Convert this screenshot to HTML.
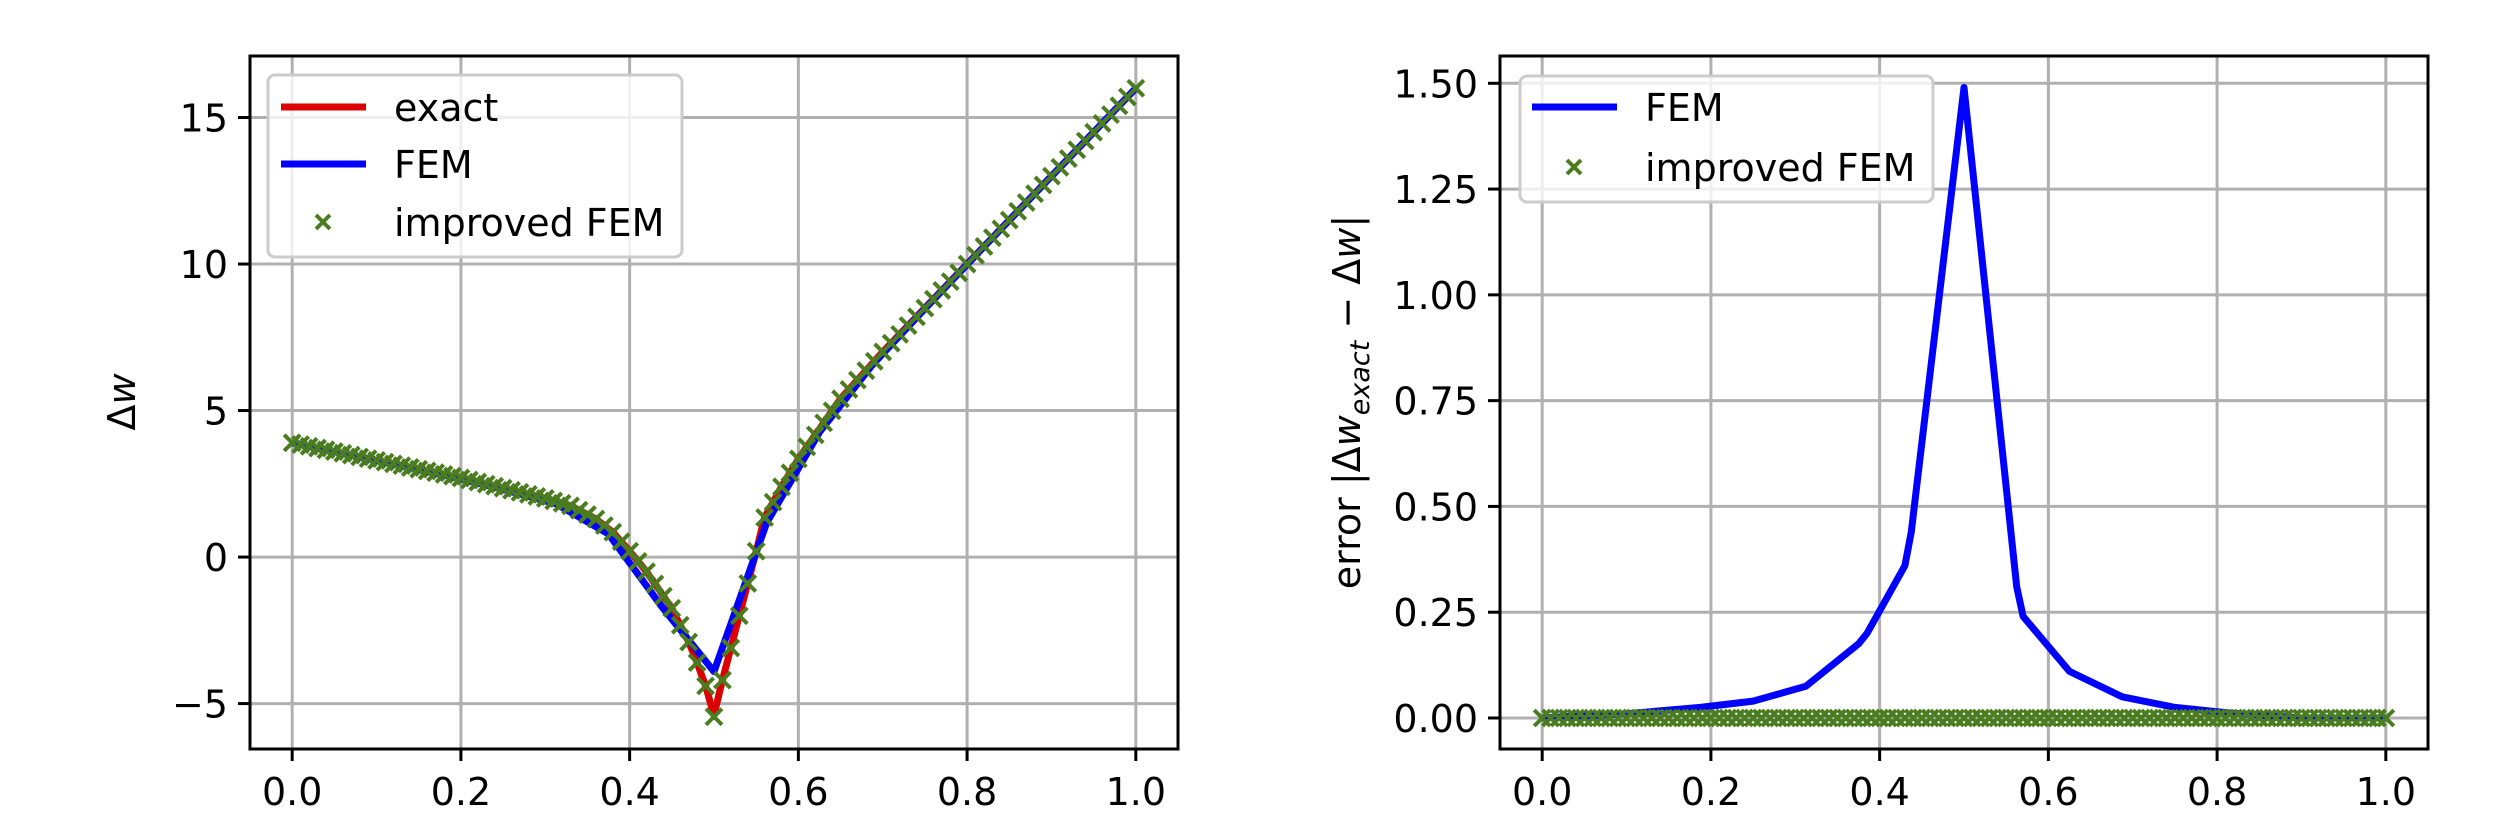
<!DOCTYPE html>
<html><head><meta charset="utf-8"><style>
html,body{margin:0;padding:0;background:#fff;}
svg{display:block;font-family:"DejaVu Sans","Liberation Sans",sans-serif;}
</style></head><body>
<svg id="s" width="2500" height="833" xmlns="http://www.w3.org/2000/svg"></svg>
<script>
const S=document.getElementById('s');
let h='';
function interp(P,x){for(let i=0;i<P.length-1;i++){if(x<=P[i+1][0]){const t=(x-P[i][0])/(P[i+1][0]-P[i][0]);return P[i][1]+t*(P[i+1][1]-P[i][1]);}}return P[P.length-1][1];}
const EX=[[0,3.9],[0.1,3.3],[0.2,2.7],[0.3,2.0],[0.33,1.75],[0.36,1.3],[0.38,0.85],[0.4,0.2],[0.42,-0.5],[0.45,-1.75],[0.47,-2.9],[0.48,-3.6],[0.49,-4.4],[0.5,-5.4],[0.51,-4.2],[0.52,-3.1],[0.53,-2.0],[0.54,-0.9],[0.55,0.2],[0.56,1.35],[0.58,2.4],[0.6,3.35],[0.65,5.4],[0.7,7.0],[0.8,10.0],[0.9,13.0],[1.0,16.0]];
const ER=[[0,0],[0.1,0.01],[0.1875,0.025],[0.25,0.04],[0.3125,0.075],[0.375,0.175],[0.385,0.2],[0.43,0.36],[0.4375,0.44],[0.5,1.49],[0.5625,0.31],[0.57,0.24],[0.625,0.11],[0.6875,0.05],[0.75,0.025],[0.8125,0.012],[0.9,0],[1,0]];
function axes(L,R,T,B,x0,x1,y0,y1,yt,fmt){
  const X=v=>L+(v-x0)/(x1-x0)*(R-L), Y=v=>B-(v-y0)/(y1-y0)*(B-T);
  let g='';
  for(let i=0;i<=5;i++){const v=i*0.2,px=X(v);g+=`<line x1="${px}" y1="${T}" x2="${px}" y2="${B}" stroke="#b0b0b0" stroke-width="3"/>`;
    g+=`<line x1="${px}" y1="${B}" x2="${px}" y2="${B+12}" stroke="#000" stroke-width="3"/>`;
    g+=`<text x="${px}" y="${B+56}" font-size="38" text-anchor="middle">${v.toFixed(1)}</text>`;}
  for(const v of yt){const py=Y(v);g+=`<line x1="${L}" y1="${py}" x2="${R}" y2="${py}" stroke="#b0b0b0" stroke-width="3"/>`;
    g+=`<line x1="${L-12}" y1="${py}" x2="${L}" y2="${py}" stroke="#000" stroke-width="3"/>`;
    g+=`<text x="${L-22}" y="${py+14}" font-size="38" text-anchor="end">${fmt(v)}</text>`;}
  return {g,X,Y};
}
function cross(x,y,s){return `M${x-s},${y-s}L${x+s},${y+s}M${x-s},${y+s}L${x+s},${y-s}`;}
const GREEN='#4a7d1f';
// Left
{const L=250,R=1178,T=56,B=749;
 const a=axes(L,R,T,B,-0.05,1.05,-6.55,17.1,[15,10,5,0,-5],v=>v<0?'−'+(-v):''+v);
 h+=a.g;
 h+=`<clipPath id="c1"><rect x="${L}" y="${T}" width="${R-L}" height="${B-T}"/></clipPath><g clip-path="url(#c1)">`;
 let pe='',pf='';
 for(let i=0;i<=400;i++){const x=i/400;const e=interp(EX,x);pe+=(i?'L':'M')+a.X(x).toFixed(1)+','+a.Y(e).toFixed(1);}
 for(let k=0;k<=16;k++){const x=k/16;const e=interp(EX,x);const f=e+(k==8?1:-1)*interp(ER,x);pf+=(k?'L':'M')+a.X(x).toFixed(1)+','+a.Y(f).toFixed(1);}
 h+=`<path d="${pe}" fill="none" stroke="#dd0000" stroke-width="7" stroke-linejoin="round"/>`;
 h+=`<path d="${pf}" fill="none" stroke="#0000ff" stroke-width="7" stroke-linejoin="round"/>`;
 let pc='';for(let i=0;i<=100;i++){const x=i/100;pc+=cross(a.X(x),a.Y(interp(EX,x)-(i==50?0.05:0)),8);}
 h+=`<path d="${pc}" stroke="${GREEN}" stroke-width="4" fill="none"/></g>`;
 h+=`<rect x="${L}" y="${T}" width="${R-L}" height="${B-T}" fill="none" stroke="#000" stroke-width="3"/>`;
 h+=`<rect x="268" y="75" width="414" height="182" rx="7" fill="#fff" fill-opacity="0.8" stroke="#cccccc" stroke-width="3"/>`;
 h+=`<line x1="281" y1="107" x2="366" y2="107" stroke="#dd0000" stroke-width="7"/><text x="394" y="121" font-size="38">exact</text>`;
 h+=`<line x1="281" y1="164" x2="366" y2="164" stroke="#0000ff" stroke-width="7"/><text x="394" y="178" font-size="38">FEM</text>`;
 h+=`<path d="${cross(323,222,7)}" stroke="${GREEN}" stroke-width="4"/><text x="394" y="236" font-size="38">improved FEM</text>`;
 h+=`<text transform="translate(135,402) rotate(-90)" font-size="38" text-anchor="middle">Δ<tspan font-style="italic">w</tspan></text>`;
}
// Right
{const L=1500,R=2428,T=56,B=749;
 const a=axes(L,R,T,B,-0.05,1.05,-0.0733,1.5645,[0,0.25,0.5,0.75,1.0,1.25,1.5],v=>v.toFixed(2));
 h+=a.g;
 h+=`<clipPath id="c2"><rect x="${L}" y="${T}" width="${R-L}" height="${B-T}"/></clipPath><g clip-path="url(#c2)">`;
 let pf='';for(let i=0;i<ER.length;i++){pf+=(i?'L':'M')+a.X(ER[i][0]).toFixed(1)+','+a.Y(ER[i][1]).toFixed(1);}
 h+=`<path d="${pf}" fill="none" stroke="#0000ff" stroke-width="7" stroke-linejoin="round"/>`;
 let pc='';for(let i=0;i<=100;i++){pc+=cross(a.X(i/100),a.Y(0),8);}
 h+=`<path d="${pc}" stroke="${GREEN}" stroke-width="4" fill="none"/></g>`;
 h+=`<rect x="${L}" y="${T}" width="${R-L}" height="${B-T}" fill="none" stroke="#000" stroke-width="3"/>`;
 h+=`<rect x="1520" y="76" width="413" height="126" rx="7" fill="#fff" fill-opacity="0.8" stroke="#cccccc" stroke-width="3"/>`;
 h+=`<line x1="1532" y1="107" x2="1617" y2="107" stroke="#0000ff" stroke-width="7"/><text x="1645" y="121" font-size="38">FEM</text>`;
 h+=`<path d="${cross(1574,167,7)}" stroke="${GREEN}" stroke-width="4"/><text x="1645" y="181" font-size="38">improved FEM</text>`;
 h+=`<text transform="translate(1360,402) rotate(-90)" font-size="38" text-anchor="middle">error |Δ<tspan font-style="italic">w</tspan><tspan font-size="27" dy="9" font-style="italic">exact</tspan><tspan dy="-9"> − Δ</tspan><tspan font-style="italic">w</tspan>|</text>`;
}
S.innerHTML=h;
</script>
</body></html>
